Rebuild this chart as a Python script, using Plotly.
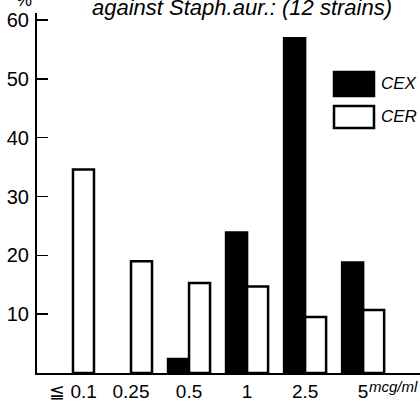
import plotly.graph_objects as go

categories = ["≦ 0.1", "0.25", "0.5", "1", "2.5", "5"]
cex_values = [None, None, 2.4, 23.9, 56.9, 18.8]
cer_values = [34.6, 19.0, 15.3, 14.7, 9.5, 10.7]
y_ticks = [10, 20, 30, 40, 50, 60]
series_names = ["CEX", "CER"]
title_text = "against Staph.aur.: (12 strains)"
unit_text = "mcg/ml"

FONT = "Liberation Sans, Arial"
L, T, B = 37, 13, 31
W, H = 420, 404
PW, PH = W - L, H - T - B


def px_x(p):
    return (p - L) / PW


def px_y(p):
    return (H - B - p) / PH


fig = go.Figure()
fig.add_trace(go.Bar(
    x=categories, y=cex_values, name=series_names[0],
    marker=dict(color="black", line=dict(color="black", width=2.5)),
    showlegend=False,
))
fig.add_trace(go.Bar(
    x=categories, y=cer_values, name=series_names[1],
    marker=dict(color="white", line=dict(color="black", width=2.5)),
    showlegend=False,
))

fig.update_layout(
    width=W, height=H,
    margin=dict(l=L, r=0, t=T, b=B, autoexpand=False),
    paper_bgcolor="white", plot_bgcolor="white",
    barmode="group", bargap=0.276, bargroupgap=0,
    font=dict(family=FONT, color="black"),
)
fig.update_xaxes(
    type="category", range=[-0.62, 5.98], automargin=False,
    showline=True, linecolor="black", linewidth=2,
    showgrid=False, zeroline=False, ticks="",
    tickfont=dict(size=19, family=FONT),
    ticktext=categories, tickvals=categories,
)
fig.update_yaxes(
    range=[0, 61.2], tickvals=y_ticks, automargin=False,
    showline=True, linecolor="black", linewidth=2,
    showgrid=False, zeroline=False,
    ticks="inside", ticklen=11, tickwidth=1.5, tickcolor="black",
    tickfont=dict(size=20, family=FONT), ticklabelstandoff=2,
)

# unit after last tick label
fig.add_annotation(x=categories[-1], y=0, xref="x", yref="y",
                   text="<i>" + unit_text + "</i>", showarrow=False,
                   xanchor="left", yanchor="top", xshift=4, yshift=-3,
                   font=dict(size=15, family=FONT))
# percent sign (cut at top)
fig.add_annotation(x=px_x(24), y=1, xref="paper", yref="paper", text="%",
                   showarrow=False, xanchor="center", yanchor="top",
                   yshift=25, font=dict(size=18, family=FONT))
# cut-off title
fig.add_annotation(x=px_x(90), y=1, xref="paper", yref="paper",
                   text="<i>" + title_text + "</i>",
                   showarrow=False, xanchor="left", yanchor="top",
                   yshift=20, font=dict(size=22, family=FONT))

# legend (manual)
legend_rows = [(series_names[0], "black", 72, 96), (series_names[1], "white", 106, 128)]
for name, fill, top, bot in legend_rows:
    fig.add_shape(type="rect", xref="paper", yref="paper",
                  x0=px_x(334), x1=px_x(374), y0=px_y(bot), y1=px_y(top),
                  fillcolor=fill, line=dict(color="black", width=2.5))
    fig.add_annotation(xref="paper", yref="paper",
                       x=px_x(379), y=px_y((top + bot) / 2),
                       text="<i>" + name + "</i>", showarrow=False,
                       xanchor="left", yanchor="middle",
                       font=dict(size=17, family=FONT))

fig.write_html(
    "out.html",
    config={"displayModeBar": False, "staticPlot": True},
    post_script="document.body.style.margin='0';document.body.style.overflow='hidden';",
)
